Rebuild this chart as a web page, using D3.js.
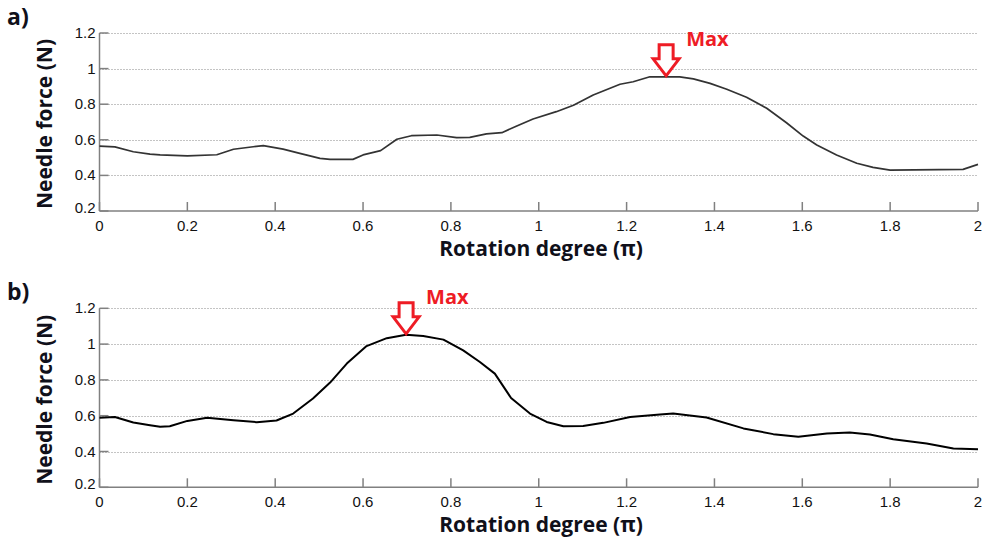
<!DOCTYPE html>
<html lang="en">
<head>
    <meta charset="UTF-8">
    <title>Needle force vs rotation degree</title>
    <script src="https://d3js.org/d3.v7.min.js"></script>
    <style>
        body { margin: 0; background: #fff; }
        .tick-label { font: 15px "Liberation Sans", Arial, sans-serif; fill: #111; }
        .axis-title { font: bold 21px "Open Sans", sans-serif; fill: #10101a; }
        .panel-tag { font: bold 23px "Open Sans", sans-serif; fill: #10101a; }
        .max-label { font: bold 20px "Open Sans", sans-serif; fill: #ee1c25; }
        .grid { stroke: #888; stroke-width: 1; stroke-dasharray: 1,2; }
        .axis-line { stroke: #808080; stroke-width: 1.5; }
    </style>
</head>
<body>
    <script>
        // Rotation degree (in units of pi) and needle force (N)
        const rotationA = [0, 0.035, 0.077, 0.115, 0.138, 0.2, 0.267, 0.305, 0.35, 0.373, 0.418, 0.456,
            0.502, 0.525, 0.577, 0.6, 0.64, 0.677, 0.71, 0.768, 0.813, 0.843, 0.881, 0.916, 0.95, 0.987,
            1.04, 1.079, 1.124, 1.185, 1.215, 1.253, 1.276, 1.321, 1.352, 1.39, 1.428, 1.473, 1.519,
            1.564, 1.602, 1.633, 1.678, 1.724, 1.761, 1.8, 1.966, 2.0];
        const forceA = [0.565, 0.56, 0.533, 0.52, 0.515, 0.51, 0.516, 0.547, 0.561, 0.567, 0.548, 0.524,
            0.496, 0.49, 0.49, 0.515, 0.539, 0.603, 0.623, 0.627, 0.612, 0.614, 0.633, 0.64, 0.678, 0.717,
            0.758, 0.794, 0.852, 0.912, 0.926, 0.954, 0.954, 0.954, 0.942, 0.917, 0.884, 0.839, 0.777,
            0.696, 0.621, 0.571, 0.515, 0.468, 0.445, 0.43, 0.434, 0.462];

        const rotationB = [0, 0.035, 0.077, 0.115, 0.138, 0.16, 0.2, 0.245, 0.305, 0.358, 0.403, 0.441,
            0.486, 0.525, 0.563, 0.608, 0.654, 0.698, 0.737, 0.783, 0.828, 0.866, 0.9, 0.937, 0.98,
            1.018, 1.056, 1.101, 1.147, 1.208, 1.276, 1.306, 1.382, 1.466, 1.534, 1.591, 1.656, 1.708,
            1.754, 1.807, 1.883, 1.944, 2.0];
        const forceB = [0.588, 0.593, 0.562, 0.547, 0.538, 0.541, 0.571, 0.588, 0.575, 0.564, 0.573, 0.612,
            0.696, 0.785, 0.891, 0.989, 1.033, 1.052, 1.045, 1.025, 0.965, 0.9, 0.835, 0.699, 0.612,
            0.565, 0.541, 0.543, 0.56, 0.593, 0.607, 0.612, 0.59, 0.529, 0.497, 0.482, 0.501, 0.506,
            0.495, 0.469, 0.445, 0.417, 0.413];

        const xTicks = [0, 0.2, 0.4, 0.6, 0.8, 1, 1.2, 1.4, 1.6, 1.8, 2];
        const yTicks = [0.2, 0.4, 0.6, 0.8, 1, 1.2];
        const maxA = { x: 1.29, y: 0.954 };
        const maxB = { x: 0.698, y: 1.052 };

        const width = 984, height = 545;
        const svg = d3.select("body").append("svg")
            .attr("width", width)
            .attr("height", height);

        const x = d3.scaleLinear().domain([0, 2]).range([99.5, 978]);

        function drawPanel(tag, xs, ys, maxPt, top, bottom, lineColor, lineWidth) {
            const y = d3.scaleLinear().domain([0.2, 1.2]).range([bottom, top]);
            const g = svg.append("g");

            // dotted horizontal grid
            g.selectAll(".grid")
                .data(yTicks.filter(d => d > 0.2))
                .join("line")
                .attr("class", "grid")
                .attr("x1", x(0)).attr("x2", x(2))
                .attr("y1", d => Math.round(y(d)) + 0.5)
                .attr("y2", d => Math.round(y(d)) + 0.5);

            // axes (left and bottom only, ticks pointing inward)
            g.append("line").attr("class", "axis-line")
                .attr("x1", x(0)).attr("x2", x(0)).attr("y1", y(1.2)).attr("y2", y(0.2));
            g.append("line").attr("class", "axis-line")
                .attr("x1", x(0)).attr("x2", x(2)).attr("y1", y(0.2)).attr("y2", y(0.2));

            g.selectAll(".xtick")
                .data(xTicks)
                .join("line")
                .attr("class", "axis-line xtick")
                .attr("x1", d => x(d)).attr("x2", d => x(d))
                .attr("y1", y(0.2)).attr("y2", y(0.2) - 9);
            g.selectAll(".ytick")
                .data(yTicks)
                .join("line")
                .attr("class", "axis-line ytick")
                .attr("x1", x(0)).attr("x2", x(0) + 9)
                .attr("y1", d => y(d)).attr("y2", d => y(d));

            g.selectAll(".xlab")
                .data(xTicks)
                .join("text")
                .attr("class", "tick-label xlab")
                .attr("x", d => x(d))
                .attr("y", y(0.2) + 20)
                .attr("text-anchor", "middle")
                .text(d => d);
            g.selectAll(".ylab")
                .data(yTicks)
                .join("text")
                .attr("class", "tick-label ylab")
                .attr("x", x(0) - 4)
                .attr("y", d => y(d) + 5 - (d === 0.2 ? 3 : 0))
                .attr("text-anchor", "end")
                .text(d => d);

            // titles
            g.append("text")
                .attr("class", "axis-title")
                .attr("x", 541).attr("y", y(0.2) + 45)
                .attr("text-anchor", "middle")
                .text("Rotation degree (π)");
            g.append("text")
                .attr("class", "axis-title")
                .attr("transform", `translate(52,${(y(0.2) + y(1.2)) / 2 + 2}) rotate(-90)`)
                .attr("text-anchor", "middle")
                .text("Needle force (N)");
            g.append("text")
                .attr("class", "panel-tag")
                .attr("x", 7).attr("y", y(1.2) - 8)
                .text(tag);

            // the curve
            const pts = xs.map((v, i) => [v, ys[i]]);
            g.append("path")
                .datum(pts)
                .attr("fill", "none")
                .attr("stroke", lineColor)
                .attr("stroke-width", lineWidth)
                .attr("stroke-linejoin", "round")
                .attr("d", d3.line().x(d => x(d[0])).y(d => y(d[1])));

            // max marker: hollow red arrow + label
            const tx = x(maxPt.x), ty = y(maxPt.y) - 1;
            const arrow = [[-7, -31], [7, -31], [7, -17], [13, -17], [0, 0], [-13, -17], [-7, -17]];
            g.append("polygon")
                .attr("points", arrow.map(p => [tx + p[0], ty + p[1]].join(",")).join(" "))
                .attr("fill", "#fff")
                .attr("stroke", "#ee1c25")
                .attr("stroke-width", 3)
                .attr("stroke-linejoin", "miter");
            g.append("text")
                .attr("class", "max-label")
                .attr("x", tx + 20).attr("y", ty - 30)
                .text("Max");
        }

        drawPanel("a)", rotationA, forceA, maxA, 33, 211, "#333", 1.7);
        drawPanel("b)", rotationB, forceB, maxB, 308.3, 487.3, "#000", 2);
    </script>
</body>
</html>
